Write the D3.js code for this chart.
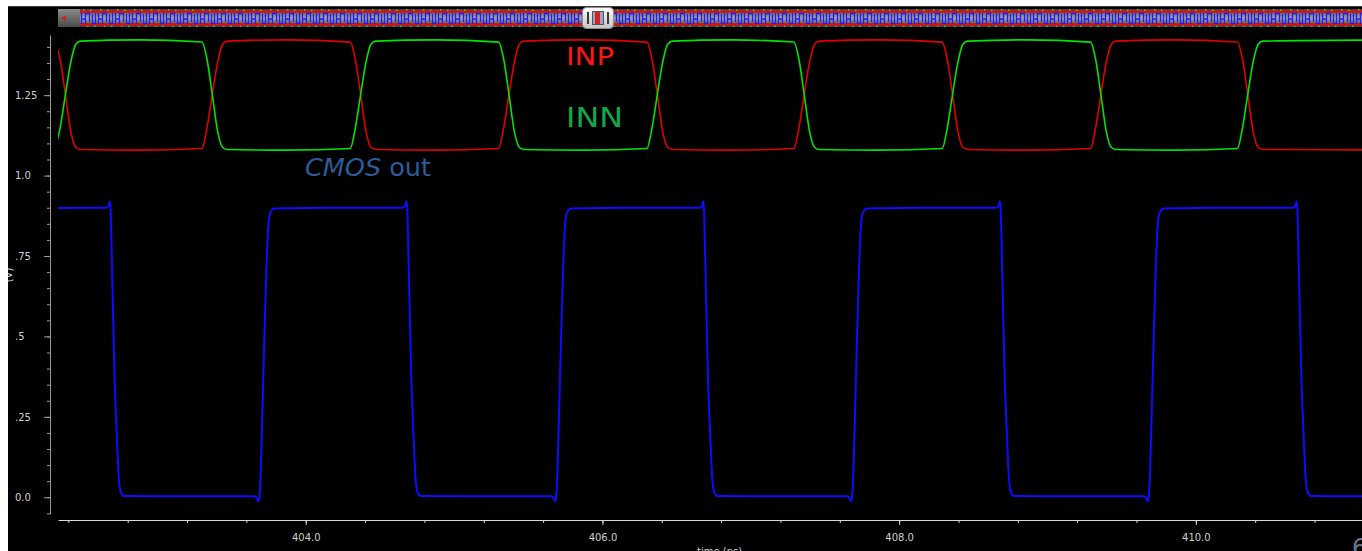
<!DOCTYPE html>
<html>
<head>
<meta charset="utf-8">
<script src="https://cdn.jsdelivr.net/npm/d3@7"></script>
<style>
  html, body { margin: 0; padding: 0; background: #fff; overflow: hidden; }
  svg { display: block; }
</style>
</head>
<body>
<svg id="chart" width="1362" height="551"></svg>
<script>
// ---- Data -------------------------------------------------------------
// Time window (ns) and voltage window (V) of the transient plot
const timeDomain = [402.33, 411.12];
const voltDomain = [-0.052, 1.437];

const xMajorTicks = [404, 406, 408, 410];
const xTickLabels = ["404.0", "406.0", "408.0", "410.0"];
const yMajorTicks = [0, 0.25, 0.5, 0.75, 1.0, 1.25];
const yTickLabels = ["0.0", ".25", ".5", ".75", "1.0", "1.25"];

const seriesNames = ["INP", "INN", "CMOS out"];
const axisTitles = ["time (ns)", "(V)"];

// INP differential input, [time ns, volts]
const inpData = [
  [402.31,1.415],[402.345,1.360],[402.38,1.252],[402.415,1.140],[402.45,1.088],[402.48,1.081],
  [402.88,1.079],
  [403.30,1.084],[403.335,1.150],[403.37,1.252],[403.405,1.350],[403.44,1.408],[403.47,1.418],
  [403.87,1.422],
  [404.30,1.415],[404.335,1.360],[404.37,1.252],[404.405,1.140],[404.44,1.088],[404.47,1.081],
  [404.87,1.079],
  [405.30,1.084],[405.335,1.150],[405.37,1.252],[405.405,1.350],[405.44,1.408],[405.47,1.418],
  [405.87,1.422],
  [406.30,1.415],[406.335,1.360],[406.37,1.252],[406.405,1.140],[406.44,1.088],[406.47,1.081],
  [406.87,1.079],
  [407.29,1.084],[407.325,1.150],[407.36,1.252],[407.395,1.350],[407.43,1.408],[407.46,1.418],
  [407.86,1.422],
  [408.29,1.415],[408.325,1.360],[408.36,1.252],[408.395,1.140],[408.43,1.088],[408.46,1.081],
  [408.86,1.079],
  [409.29,1.084],[409.325,1.150],[409.36,1.252],[409.395,1.350],[409.43,1.408],[409.46,1.418],
  [409.86,1.422],
  [410.28,1.415],[410.315,1.360],[410.35,1.252],[410.385,1.140],[410.42,1.088],[410.45,1.081],
  [411.12,1.080]
];

// INN differential input, [time ns, volts]
const innData = [
  [402.31,1.084],[402.345,1.150],[402.38,1.252],[402.415,1.350],[402.45,1.408],[402.48,1.418],
  [402.88,1.422],
  [403.30,1.415],[403.335,1.360],[403.37,1.252],[403.405,1.140],[403.44,1.088],[403.47,1.081],
  [403.87,1.079],
  [404.30,1.084],[404.335,1.150],[404.37,1.252],[404.405,1.350],[404.44,1.408],[404.47,1.418],
  [404.87,1.422],
  [405.30,1.415],[405.335,1.360],[405.37,1.252],[405.405,1.140],[405.44,1.088],[405.47,1.081],
  [405.87,1.079],
  [406.30,1.084],[406.335,1.150],[406.37,1.252],[406.405,1.350],[406.44,1.408],[406.47,1.418],
  [406.87,1.422],
  [407.29,1.415],[407.325,1.360],[407.36,1.252],[407.395,1.140],[407.43,1.088],[407.46,1.081],
  [407.86,1.079],
  [408.29,1.084],[408.325,1.150],[408.36,1.252],[408.395,1.350],[408.43,1.408],[408.46,1.418],
  [408.86,1.422],
  [409.29,1.415],[409.325,1.360],[409.36,1.252],[409.395,1.140],[409.43,1.088],[409.46,1.081],
  [409.86,1.079],
  [410.28,1.084],[410.315,1.150],[410.35,1.252],[410.385,1.350],[410.42,1.408],[410.45,1.418],
  [411.12,1.421]
];

// CMOS output, [time ns, volts]
const cmosData = [
  [402.33,0.899],
  [402.653,0.900],[402.670,0.905],[402.680,0.920],[402.685,0.890],[402.690,0.800],[402.696,0.676],
  [402.712,0.364],[402.725,0.209],[402.741,0.053],[402.754,0.015],[402.774,0.004],
  [403.20,0.003],
  [403.653,0.003],[403.673,-0.005],[403.680,-0.012],[403.687,0.000],[403.694,0.050],[403.707,0.250],
  [403.720,0.480],[403.734,0.700],[403.747,0.840],[403.761,0.885],[403.788,0.898],
  [404.20,0.900],
  [404.653,0.900],[404.670,0.905],[404.680,0.920],[404.685,0.890],[404.690,0.800],[404.696,0.676],
  [404.712,0.364],[404.725,0.209],[404.741,0.053],[404.754,0.015],[404.774,0.004],
  [405.20,0.003],
  [405.653,0.003],[405.673,-0.005],[405.680,-0.012],[405.687,0.000],[405.694,0.050],[405.707,0.250],
  [405.720,0.480],[405.734,0.700],[405.747,0.840],[405.761,0.885],[405.788,0.898],
  [406.20,0.900],
  [406.653,0.900],[406.670,0.905],[406.680,0.920],[406.685,0.890],[406.690,0.800],[406.696,0.676],
  [406.712,0.364],[406.725,0.209],[406.741,0.053],[406.754,0.015],[406.774,0.004],
  [407.20,0.003],
  [407.648,0.003],[407.668,-0.005],[407.675,-0.012],[407.682,0.000],[407.689,0.050],[407.702,0.250],
  [407.715,0.480],[407.729,0.700],[407.742,0.840],[407.756,0.885],[407.783,0.898],
  [408.20,0.900],
  [408.653,0.900],[408.670,0.905],[408.680,0.920],[408.685,0.890],[408.690,0.800],[408.696,0.676],
  [408.712,0.364],[408.725,0.209],[408.741,0.053],[408.754,0.015],[408.774,0.004],
  [409.20,0.003],
  [409.648,0.003],[409.668,-0.005],[409.675,-0.012],[409.682,0.000],[409.689,0.050],[409.702,0.250],
  [409.715,0.480],[409.729,0.700],[409.742,0.840],[409.756,0.885],[409.783,0.898],
  [410.20,0.900],
  [410.653,0.900],[410.670,0.905],[410.680,0.920],[410.685,0.890],[410.690,0.800],[410.696,0.676],
  [410.712,0.364],[410.725,0.209],[410.741,0.053],[410.754,0.015],[410.774,0.004],
  [411.12,0.003]
];

// ---- Canvas -----------------------------------------------------------
const W = 1362, H = 551;
const svg = d3.select("#chart");
const FONT = "'DejaVu Sans', 'Liberation Sans', sans-serif";

svg.append("rect").attr("width", W).attr("height", H).attr("fill", "#fff");
svg.append("rect").attr("x", 8).attr("y", 6).attr("width", W - 8).attr("height", H - 6).attr("fill", "#000");
svg.append("line").attr("x1", 8).attr("x2", W).attr("y1", 6.5).attr("y2", 6.5)
  .attr("stroke", "#3a3a3a").attr("stroke-width", 1);

const defs = svg.append("defs");

// ---- Overview scrollbar ----------------------------------------------
const trackGrad = defs.append("linearGradient").attr("id", "trackGrad")
  .attr("x1", 0).attr("y1", 0).attr("x2", 0).attr("y2", 1);
trackGrad.append("stop").attr("offset", "0%").attr("stop-color", "#3e3e3e");
trackGrad.append("stop").attr("offset", "50%").attr("stop-color", "#a4a4a4");
trackGrad.append("stop").attr("offset", "100%").attr("stop-color", "#3e3e3e");

const btnGrad = defs.append("linearGradient").attr("id", "btnGrad")
  .attr("x1", 0).attr("y1", 0).attr("x2", 0).attr("y2", 1);
btnGrad.append("stop").attr("offset", "0%").attr("stop-color", "#8a8a8a");
btnGrad.append("stop").attr("offset", "50%").attr("stop-color", "#6a6a6a");
btnGrad.append("stop").attr("offset", "100%").attr("stop-color", "#4a4a4a");

const knobGrad = defs.append("linearGradient").attr("id", "knobGrad")
  .attr("x1", 0).attr("y1", 0).attr("x2", 0).attr("y2", 1);
knobGrad.append("stop").attr("offset", "0%").attr("stop-color", "#fdfdfd");
knobGrad.append("stop").attr("offset", "100%").attr("stop-color", "#c4c4c4");

const thumb = defs.append("pattern").attr("id", "thumbs")
  .attr("patternUnits", "userSpaceOnUse")
  .attr("x", 80).attr("y", 9).attr("width", 17).attr("height", 18);
thumb.append("rect").attr("width", 17).attr("height", 18).attr("fill", "url(#trackGrad)");
thumb.append("rect").attr("y", 1).attr("width", 17).attr("height", 3).attr("fill", "#c81818");
thumb.append("rect").attr("y", 14).attr("width", 17).attr("height", 3).attr("fill", "#c81818");
thumb.append("path")
  .attr("d", "M1.5,4V15 M1.5,10H5.5 M5.5,4V15 M5.5,4.5H9.5 M9.5,4V13 M12.5,5V15 M12.5,14.5H15.5 M15.5,4V15")
  .attr("stroke", "#1c1cff").attr("stroke-width", 1.3).attr("fill", "none");
[[3, 0], [10, 0.5], [14, 16.5], [7, 17]].forEach(([gx, gy]) =>
  thumb.append("rect").attr("x", gx).attr("y", gy).attr("width", 1.5).attr("height", 1.5).attr("fill", "#22dd22"));

svg.append("rect").attr("x", 80).attr("y", 9).attr("width", W - 80).attr("height", 18)
  .attr("fill", "url(#thumbs)");
svg.append("rect").attr("x", 58).attr("y", 9).attr("width", 22).attr("height", 18)
  .attr("fill", "url(#btnGrad)");
svg.append("path").attr("d", "M61,18 L66,15.5 L66,20.5 Z").attr("fill", "#d02020");

// scrollbar knob
svg.append("rect").attr("x", 582.5).attr("y", 7.5).attr("width", 31).attr("height", 21).attr("rx", 4)
  .attr("fill", "url(#knobGrad)").attr("stroke", "#8c8c8c");
svg.append("rect").attr("x", 587).attr("y", 12).attr("width", 2).attr("height", 12).attr("fill", "#3a3a3a");
svg.append("rect").attr("x", 607).attr("y", 12).attr("width", 2).attr("height", 12).attr("fill", "#3a3a3a");
svg.append("rect").attr("x", 592.5).attr("y", 11.5).attr("width", 11).attr("height", 13)
  .attr("fill", "#9aa4c8").attr("stroke", "#555");
svg.append("rect").attr("x", 595).attr("y", 12).attr("width", 5).attr("height", 12).attr("fill", "#d82020");

// ---- Scales & axes ----------------------------------------------------
const x = d3.scaleLinear().domain(timeDomain).range([58, W]);
const y = d3.scaleLinear().domain(voltDomain).range([514, 35]);

const yMinorTicks = d3.range(-5, 141, 5).map(v => v / 100);
const xMinorTicks = d3.range(4024, 4112, 4).map(v => v / 10);

// Y axis
const yAxisG = svg.append("g").attr("transform", "translate(50,0)");
yAxisG.append("g")
  .call(d3.axisLeft(y).tickValues(yMinorTicks).tickSize(3).tickSizeOuter(0).tickFormat(""))
  .call(g => g.select(".domain").remove());
const yMaj = yAxisG.append("g")
  .call(d3.axisLeft(y).tickValues(yMajorTicks).tickSize(6).tickSizeOuter(0)
    .tickFormat((d, i) => yTickLabels[i]));
yAxisG.selectAll("line").attr("stroke", "#9a9a9a");
yAxisG.selectAll(".domain").attr("stroke", "#9a9a9a");
yMaj.selectAll("text")
  .attr("x", -35).attr("text-anchor", "start")
  .attr("fill", "#cfcfcf").style("font-family", FONT).style("font-size", "10px");

// X axis
const xAxisG = svg.append("g").attr("transform", "translate(0,520)");
xAxisG.append("g")
  .call(d3.axisBottom(x).tickValues(xMinorTicks).tickSize(3).tickSizeOuter(0).tickFormat(""))
  .call(g => g.select(".domain").remove());
const xMaj = xAxisG.append("g")
  .call(d3.axisBottom(x).tickValues(xMajorTicks).tickSize(5).tickSizeOuter(0)
    .tickFormat((d, i) => xTickLabels[i]));
xAxisG.selectAll("line").attr("stroke", "#d8d8d8");
xAxisG.selectAll(".domain").attr("stroke", "#d8d8d8");
xMaj.selectAll("text")
  .attr("y", 14).attr("dy", "0.71em")
  .attr("fill", "#cfcfcf").style("font-family", FONT).style("font-size", "10px");
xMaj.selectAll("text").attr("dy", null).attr("y", 21);

// axis titles (partly cut by the frame)
svg.append("text").attr("x", 697).attr("y", 555)
  .attr("fill", "#cfcfcf").style("font-family", FONT).style("font-size", "10px")
  .text(axisTitles[0]);
svg.append("text").attr("transform", "translate(12,275) rotate(-90)")
  .attr("text-anchor", "middle")
  .attr("fill", "#cfcfcf").style("font-family", FONT).style("font-size", "10px")
  .text(axisTitles[1]);

// ---- Waveforms --------------------------------------------------------
defs.append("clipPath").attr("id", "plotClip")
  .append("rect").attr("x", 58).attr("y", 30).attr("width", W - 58).attr("height", 486);

const line = d3.line()
  .x(d => x(d[0]))
  .y(d => y(d[1]))
  .curve(d3.curveMonotoneX);

const plot = svg.append("g").attr("clip-path", "url(#plotClip)");
plot.append("path").datum(cmosData).attr("d", line)
  .attr("fill", "none").attr("stroke", "#0c0cff").attr("stroke-width", 2);
plot.append("path").datum(inpData).attr("d", line)
  .attr("fill", "none").attr("stroke", "#e00000").attr("stroke-width", 1.6);
plot.append("path").datum(innData).attr("d", line)
  .attr("fill", "none").attr("stroke", "#00e400").attr("stroke-width", 1.6);

// ---- Signal labels ----------------------------------------------------
svg.append("text").attr("x", 566).attr("y", 65)
  .attr("fill", "#ff1414").style("font-family", FONT).style("font-size", "25px")
  .attr("textLength", 48).attr("lengthAdjust", "spacingAndGlyphs")
  .text(seriesNames[0]);
svg.append("text").attr("x", 566).attr("y", 127)
  .attr("fill", "#10a84a").style("font-family", FONT).style("font-size", "26px")
  .attr("textLength", 57).attr("lengthAdjust", "spacingAndGlyphs")
  .text(seriesNames[1]);
const cmosLabel = svg.append("text").attr("x", 305).attr("y", 176)
  .attr("fill", "#2c5a9a").style("font-family", FONT).style("font-size", "24px")
  .attr("textLength", 126).attr("lengthAdjust", "spacingAndGlyphs");
const [cmosWord, outWord] = seriesNames[2].split(" ");
cmosLabel.append("tspan").style("font-style", "italic").text(cmosWord);
cmosLabel.append("tspan").text(" " + outWord);

// corner glyph of the viewer frame
svg.append("text").attr("x", 1352).attr("y", 556)
  .attr("fill", "#6a7791").style("font-family", FONT).style("font-size", "24px")
  .text("6");

// white left border stays on top of the cut-off axis title
svg.append("rect").attr("x", 0).attr("y", 0).attr("width", 8).attr("height", H).attr("fill", "#fff");
</script>
</body>
</html>
